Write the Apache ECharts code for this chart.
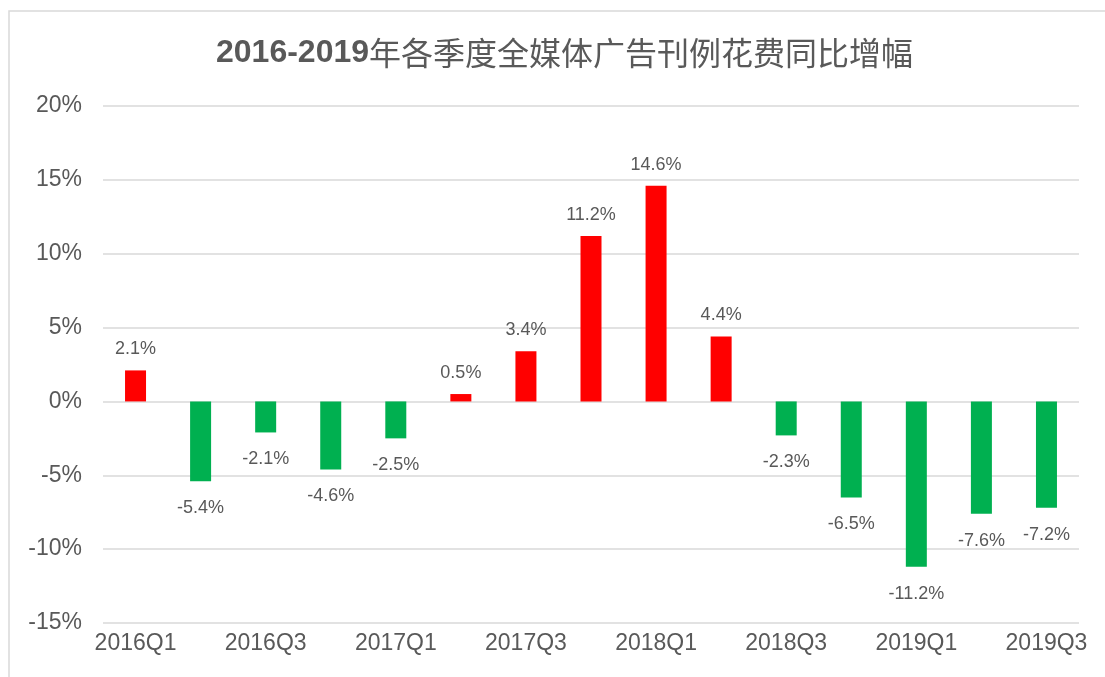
<!DOCTYPE html>
<html>
<head>
<meta charset="utf-8">
<script src="https://cdn.jsdelivr.net/npm/echarts@6/dist/echarts.min.js"></script>
<style>
  html, body { margin: 0; padding: 0; background: #fff; }
  #chart { width: 1105px; height: 677px; }
</style>
</head>
<body>
<div id="chart"></div>
<script>
const categories = ['2016Q1','2016Q2','2016Q3','2016Q4','2017Q1','2017Q2','2017Q3','2017Q4','2018Q1','2018Q2','2018Q3','2018Q4','2019Q1','2019Q2','2019Q3'];
const growth = [2.1, -5.4, -2.1, -4.6, -2.5, 0.5, 3.4, 11.2, 14.6, 4.4, -2.3, -6.5, -11.2, -7.6, -7.2];
const yTicks = { min: -15, max: 20, interval: 5 };
const titleYears = '2016-2019';
const titleText = '年各季度全媒体广告刊例花费同比增幅';

const RED = '#FF0000', GREEN = '#00B050', TEXT = '#595959', GRID = '#d9d9d9';
const FONT = '"Liberation Sans", Arial, sans-serif';

const chart = echarts.init(document.getElementById('chart'), null, { renderer: 'canvas' });

const seriesData = growth.map(v => ({
  value: v,
  itemStyle: { color: v >= 0 ? RED : GREEN },
  label: { position: v >= 0 ? 'top' : 'bottom', distance: v >= 0 ? 12 : 18 }
}));

chart.setOption({
  backgroundColor: '#fff',
  animation: false,
  graphic: [{
    type: 'rect',
    shape: { x: 9, y: 11, width: 1300, height: 1000 },
    style: { fill: 'none', stroke: GRID, lineWidth: 1.5 },
    silent: true,
    z: -1
  }],
  title: {
    text: '{d|' + titleYears + '}{c|' + titleText + '}',
    left: 211,
    top: 28,
    textStyle: {
      rich: {
        d: { fontFamily: FONT, fontWeight: 'bold', fontSize: 32, color: TEXT, lineHeight: 40 },
        c: { fontFamily: '"Noto Sans CJK SC", sans-serif', fontWeight: 'normal', fontSize: 32, color: TEXT, lineHeight: 40 }
      }
    }
  },
  grid: { left: 103, right: 26, top: 106, bottom: 54, containLabel: false },
  xAxis: {
    type: 'category',
    data: categories,
    position: 'bottom',
    boundaryGap: true,
    axisLine: { show: false },
    axisTick: { show: false },
    axisLabel: {
      interval: 1,
      color: TEXT,
      fontFamily: FONT,
      fontSize: 23,
      margin: 9
    },
    splitLine: { show: false }
  },
  yAxis: {
    type: 'value',
    min: yTicks.min,
    max: yTicks.max,
    interval: yTicks.interval,
    axisLine: { show: false },
    axisTick: { show: false },
    axisLabel: {
      formatter: '{value}%',
      color: TEXT,
      fontFamily: FONT,
      fontSize: 23,
      margin: 21
    },
    splitLine: { lineStyle: { color: GRID, width: 1.5 } }
  },
  series: [{
    type: 'bar',
    data: seriesData,
    barWidth: 21,
    label: {
      show: true,
      color: TEXT,
      fontFamily: FONT,
      fontSize: 18,
      formatter: p => p.value.toFixed(1) + '%'
    }
  }]
});
</script>
</body>
</html>
